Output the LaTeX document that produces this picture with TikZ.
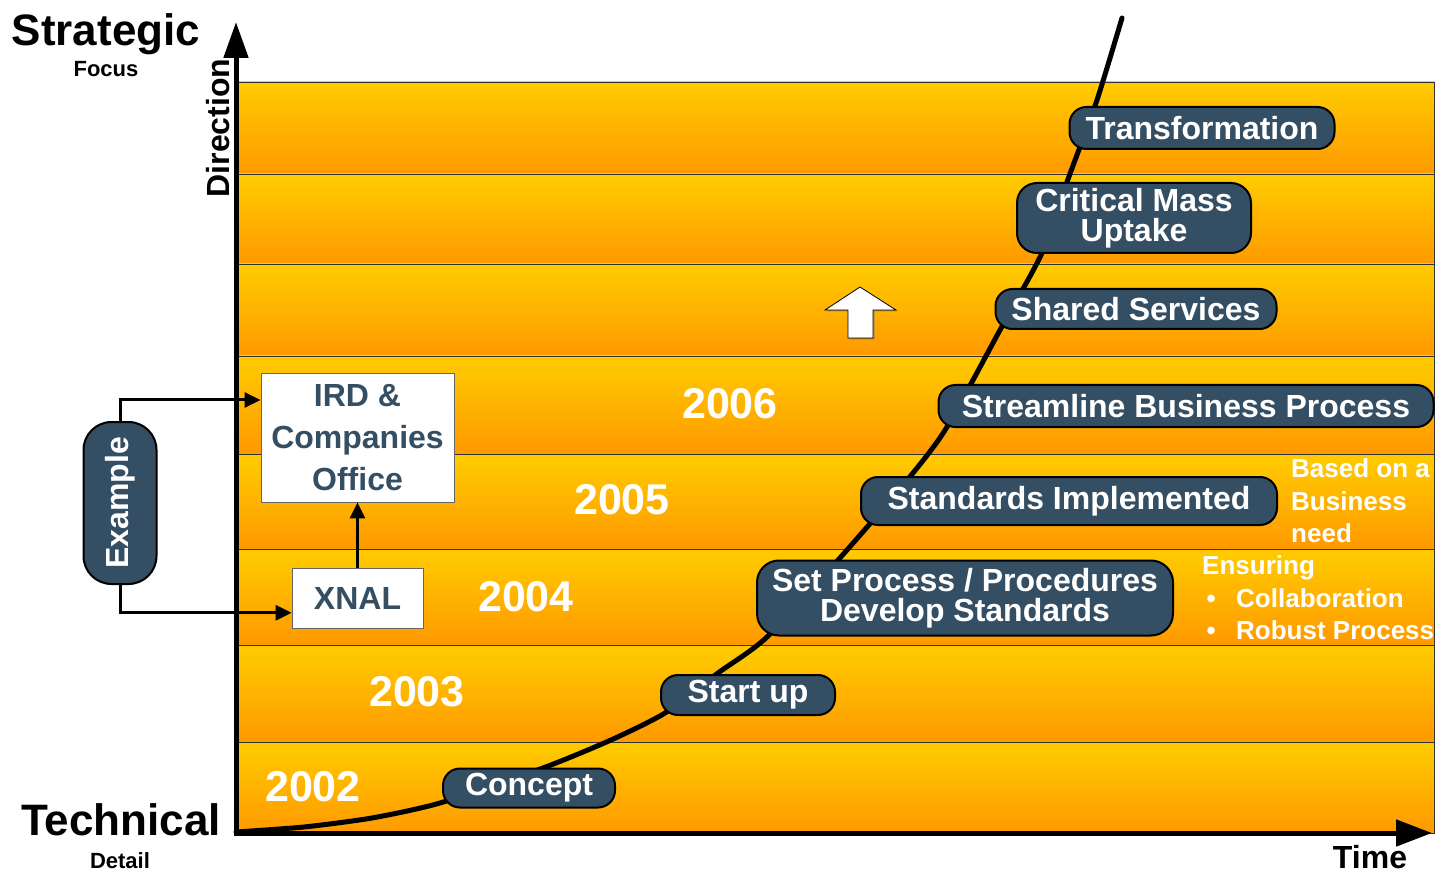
\documentclass[tikz,border=0pt]{standalone}
\usepackage{fontspec}
\setmainfont{Liberation Sans}
\usetikzlibrary{positioning}
\usetikzlibrary{arrows.meta}
\usetikzlibrary{shadows}
\definecolor{slate}{HTML}{344E63}
\definecolor{gold}{HTML}{FFCC00}
\definecolor{amber}{HTML}{FF9900}
\tikzset{band/.style={top color=gold, bottom color=amber, draw=black!80, line width=0.9pt},
stage/.style={draw=black, line width=2pt, fill=slate, text=white, rounded corners=17pt,
font=\fontsize{32}{30}\selectfont\bfseries, align=center, minimum height=42pt, inner sep=0pt},
yearlbl/.style={text=white, font=\fontsize{43}{43}\selectfont\bfseries},
note/.style={text=white, font=\fontsize{26}{32.5}\selectfont\bfseries, align=left, anchor=west, inner sep=0pt},
exbox/.style={draw=black!60, line width=0.8pt, fill=white, text=slate,
font=\fontsize{32}{42}\selectfont\bfseries, align=center, inner sep=0pt},
link/.style={line width=3pt, -{Triangle[length=16pt,width=15pt]}}}

\begin{document}
\begin{tikzpicture}[x=1pt, y=-1pt, axis/.style={line width=5pt}]
	\useasboundingbox (0,0) rectangle (1435,874);
	\foreach \t/\b in {82/174,174/264,264/356,356/454,454/549,549/645,645/742,742/833}
		\draw[band] (236,\t) rectangle (1434,\b);
	\draw[axis, {Triangle[length=36pt,width=24pt]}-{Triangle[length=36pt,width=26pt]}]
		(236,22) -- (236,833) -- (1432,833);
	\draw[line width=5pt, line cap=round] plot[smooth, tension=0.4] coordinates {
		(236,832) (304,827) (372,818) (440,803) (543,768) (611,740) (665,713)
		(718,673) (767,637) (847,550) (913,473) (947,427) (1000,330) (1042,253)
		(1067,182) (1097,100) (1122,18)};
	\draw[fill=white, draw=black, line width=0.8pt,
		drop shadow={shadow xshift=1.5pt, shadow yshift=-1.5pt, fill=black!60}]
		(860,287) -- (896,310) -- (873,310) -- (873,338) -- (848,338) -- (848,310) -- (825,310) -- cycle;

	\node[font=\fontsize{44}{44}\selectfont\bfseries, anchor=base] (strat) at (106,46) {Strategic};
	\node[font=\fontsize{22}{22}\selectfont\bfseries, anchor=base] (focus) at (106,77) {Focus};
	\node[font=\fontsize{44}{44}\selectfont\bfseries, anchor=base] (tech) at (121,835) {Technical};
	\node[font=\fontsize{22}{22}\selectfont\bfseries, anchor=base, inner sep=0pt] (detail) at (120,868) {Detail};
	\node[font=\fontsize{32}{32}\selectfont\bfseries, anchor=base, inner sep=0pt] (time) at (1370,868) {Time};
	\node[font=\fontsize{32}{32}\selectfont\bfseries, rotate=90] (dir) at (218,128) {Direction};

	\node[yearlbl] (y2006) at (730,404) {2006};
	\node[yearlbl] (y2005) at (622,500) {2005};
	\node[yearlbl] (y2004) at (526,597) {2004};
	\node[yearlbl] (y2003) at (417,692) {2003};
	\node[yearlbl] (y2002) at (313,787) {2002};

	\node[stage, minimum width=265pt] (trans) at (1202,128) {Transformation};
	\node[stage, minimum width=234pt, minimum height=70pt, rounded corners=20pt] (crit) at (1134,218) {Critical Mass\\Uptake};
	\node[stage, minimum width=281pt, minimum height=40pt] (shared) at (1136,309) {Shared Services};
	\node[stage, minimum width=495pt] (stream) at (1186,406) {Streamline Business Process};
	\node[stage, minimum width=416pt, minimum height=48pt] (stdimpl) at (1069,501) {Standards Implemented};
	\node[stage, minimum width=416pt, minimum height=75pt, rounded corners=22pt] (setproc) at (965,598) {Set Process / Procedures\\Develop Standards};
	\node[stage, minimum width=174pt, minimum height=40pt] (startup) at (748,695) {Start up};
	\node[stage, minimum width=172pt, minimum height=39pt] (concept) at (529,788) {Concept};

	\node[note] (need) at (1291,501) {Based on a\\Business\\need};
	\node[note] (ensure) at (1202,598) {Ensuring\\\makebox[34pt][l]{\,\textbullet}Collaboration\\\makebox[34pt][l]{\,\textbullet}Robust Process};

	\node[exbox, minimum width=193pt, minimum height=129pt] (ird) at (357.5,437.5) {IRD \&\\Companies\\Office};
	\node[exbox, minimum width=131pt, minimum height=60pt, below=66pt of ird] (xnal) {XNAL};
	\node[stage, rotate=90, minimum width=162pt, minimum height=73pt, rounded corners=28pt] (ex) at (120,503) {Example};
	\draw[link] (ex.east) |- ([yshift=37.5pt]ird.west);
	\draw[link] (ex.west) |- ([yshift=-14pt]xnal.west);
	\draw[link] (xnal) -- (ird);
\end{tikzpicture}
\end{document}
